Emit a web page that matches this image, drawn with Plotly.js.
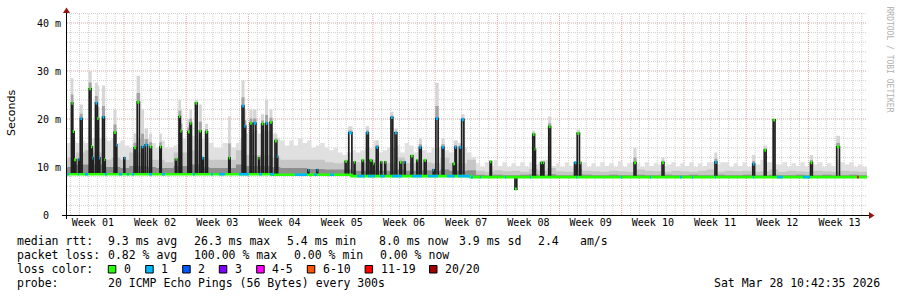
<!DOCTYPE html>
<html><head><meta charset="utf-8">
<script src="https://cdn.plot.ly/plotly-3.0.1.min.js"></script>
<style>html,body{margin:0;padding:0;background:#fff}#chart{width:897px;height:297px}</style>
</head><body><div id="chart"></div>
<script>
// ---------------- DATA (time in days from the left edge of the graph, 90 = now) ----------------
const weekLabels = ['Week 01','Week 02','Week 03','Week 04','Week 05','Week 06','Week 07','Week 08','Week 09','Week 10','Week 11','Week 12','Week 13'];
const weekMidDay = [2.91,9.91,16.91,23.91,30.91,37.91,44.91,51.91,58.91,65.91,72.91,79.91,86.91];
const weekStartDay = [6.41,13.41,20.41,27.41,34.41,41.41,48.41,55.41,62.41,69.41,76.41,83.41];

const yTickVals = [0, 10, 20, 30, 40];
const yTickText = ['0\u00a0\u00a0', '10 m', '20 m', '30 m', '40 m'];

// baseline median (ms), change points
const baseDay = [0, 23, 32, 45.4];
const baseMs  = [8.5, 8.4, 8.1, 7.9];

// elevated median periods
const spikeDay = [0.50,0.65,0.80,1.30,1.50,2.50,2.70,2.85,3.20,3.40,3.60,4.00,4.20,5.30,5.50,6.40,7.55,7.90,8.40,8.80,
  9.30,10.45,12.20,12.60,12.75,13.60,13.85,14.45,14.90,15.20,15.60,18.20,19.70,19.95,20.60,21.00,21.55,21.90,22.35,22.85,
  23.40,23.60,27.10,28.10,31.30,31.70,32.30,33.20,33.70,34.10,34.45,34.80,35.30,35.75,36.45,36.90,37.45,37.95,38.70,39.35,
  39.65,40.20,41.20,41.50,42.20,43.45,43.65,44.15,44.40,47.60,50.40,52.40,52.60,53.30,53.55,54.20,57.10,57.40,57.70,63.80,
  66.95,72.90,77.15,78.45,79.45,83.65,86.60];
const spikeLen = [0.15,0.15,0.20,0.10,0.20,0.20,0.15,0.10,0.20,0.15,0.10,0.20,0.10,0.20,0.10,0.10,0.20,0.25,0.20,0.25,
  0.20,0.15,0.15,0.15,0.15,0.20,0.15,0.20,0.20,0.15,0.20,0.15,0.20,0.15,0.20,0.25,0.10,0.20,0.20,0.20,
  0.20,0.10,0.10,0.10,0.20,0.35,0.10,0.15,0.20,0.20,0.10,0.20,0.10,0.10,0.20,0.20,0.20,0.10,0.20,0.10,
  0.20,0.20,0.10,0.25,0.20,0.20,0.15,0.20,0.25,0.15,0.20,0.20,0.10,0.15,0.10,0.20,0.20,0.25,0.10,0.20,
  0.20,0.20,0.20,0.20,0.20,0.20,0.30];
const spikeMs = [23.3,17.4,11.5,11.6,20.1,26.3,14.2,11.9,23.3,20.1,11.9,20.4,11.5,17.2,14.6,11.9,14.0,23.5,14.2,14.6,
  14.2,14.2,11.6,20.5,17.5,17.3,19.1,23.3,17.5,11.9,17.3,11.9,22.7,18.5,19.1,19.1,11.9,19.0,19.1,19.3,
  15.4,12.2,9.4,9.4,11.2,17.1,11.0,11.4,17.1,11.4,10.7,14.1,11.0,11.0,20.3,17.1,11.0,11.0,12.3,11.4,
  14.1,11.4,9.4,20.1,14.1,10.7,14.1,14.1,19.9,11.1,5.4,16.8,13.7,10.9,10.9,18.4,10.9,17.0,10.9,10.9,
  10.9,11.0,10.6,13.5,19.8,10.9,14.2];
const spikeLoss = [0,0,0,1,1,0,0,1,1,0,1,1,0,0,1,1,0,0,1,1,
  0,0,0,0,0,0,0,0,0,1,0,0,1,1,0,1,0,0,1,0,
  0,1,1,1,0,1,0,0,1,0,0,1,0,0,1,1,0,1,0,0,
  1,0,1,1,1,0,1,1,1,0,0,0,0,0,0,0,1,0,0,0,
  0,1,1,0,0,0,0];
// highest ping (top of the smoke) during each elevated period, 0 = none above the median
const spikeSmokeMs = [28.5,0,0,0,23,30,0,0,27.5,27,0,27,0,22,0,0,17,29,22,18,
  17,17,0,24,22,20,22,24,23,0,19,20.5,28,22,22,22,0,21,24,22,
  17,0,0,0,0,18.5,0,0,18.5,0,0,15.5,0,0,21.5,18,0,0,0,0,
  16,0,0,27.5,16,0,15.5,15,21,0,0,17.5,0,0,0,20.5,0,17.8,0,14,
  12,13,12.5,14.5,20,12.5,16.5];

// packet loss on the baseline (category index into lossLabels)
const lossStart = [0.00,1.24,2.02,4.27,5.85,6.75,7.31,9.22,10.69,14.17,16.20,17.10,19.35,21.60,22.84,25.65,27.79,29.59,32.62,33.86,
  35.21,36.56,38.81,40.61,42.75,43.99,45.45,46.46,49.27,52.09,57.26,62.32,65.59,68.96,70.31,72.90,77.17,79.87,82.80,88.87];
const lossEnd   = [0.22,1.35,2.36,4.50,6.19,6.97,7.54,9.56,11.02,14.40,16.42,17.77,20.47,21.94,23.29,27.00,28.12,30.04,33.52,34.65,
  35.77,37.69,39.94,41.74,43.65,45.34,45.67,46.58,49.39,52.20,57.38,62.44,65.70,69.19,70.42,73.00,77.29,80.54,83.59,89.09];
const lossCat   = [1,1,1,1,1,1,1,1,1,1,1,1,1,1,1,1,1,1,1,1,
  1,1,1,1,1,1,1,1,1,1,1,1,1,1,1,1,1,1,1,6];

// smoke: outer (lightest) envelope, per half day (ms)
const smokeHiMs = [
  15,15.5,15,15.5,15,16,16,16,16,15.5,
  16,15,15.5,14.5,14,15,16,16,16,15,
  14,15.5,14,14,14.5,15.5,16,16,16.5,16,
  16,16,15,14,14,15,15,14,15,16,
  17,17,17.5,17,17.5,17.5,17,16,15.5,14.5,
  15.5,14.5,16,15,15.5,14,14.5,15,14,13.5,
  14,13,12.5,13,13.5,13,13.5,14,14,15.5,
  13,13.5,14,14,14.5,13,15,14.5,13,14,
  13.5,13,14,14,14.5,13.5,13,15.5,15,14,
  13,12,10.8,10,11,10,11.5,10.2,11,10,
  10.8,10.2,11,10,11,10.5,11,11.5,11.5,10.2,
  10.8,10,11,10.2,10.5,10.5,11,10,10.8,10,
  11,10.2,10.8,10,11.2,10,10.8,11,10.8,10,
  11,10.2,10.8,10.5,10,10.5,11,10,10.8,10.2,
  11,10,10.8,10.2,11,11,10.5,11,11,10,
  10.8,10.2,11,10,11,10.5,11.5,11,11,10.5,
  10.5,11,10,10.8,10.2,11,10,11,10.5,11,
  10,10.8,10.2,11.5,11,10.5,11,10,10.5,10];
// smoke: middle band, per day (ms)
const smokeMidMs = [
  12,13,13.5,13,11.5,12,11.5,13,13,11.5,11.5,11,13,13,
  13.5,12,11.5,11.5,11.5,13.5,12.5,12.5,12.5,12,11.5,11.5,11.5,11.5,
  11.5,11,10.8,11,11,10.8,11.5,10.8,10.8,12,10.8,10.8,11,10.8,12,10.8,10.8,11.5,
  9.2,9.0,9.3,9.1,9.2,9.0,9.6,9.2,9.8,9.1,
  9.0,9.6,9.2,9.1,9.0,9.2,9.1,9.0,9.5,9.2,
  9.1,9.0,9.2,9.1,9.0,9.2,9.5,9.0,9.2,9.1,
  9.2,9.0,9.1,9.5,9.0,9.2,9.1,9.0,9.2,9.1,
  9.0,9.2,9.1,9.0];
// smoke: dense core just above the median, per day (ms)
const smokeLowMs = [
  10,10.5,10.5,10.5,10,10,9.8,10.2,10.2,10,9.8,9.8,10.2,10.2,10.5,10,
  9.8,9.8,9.8,10.5,10.2,10.2,10.2,10,9.8,9.8,9.8,9.6,9.6,9.5,9.5,9.5,
  9.2,9.2,9.3,9.2,9.2,9.5,9.2,9.2,9.3,9.2,9.5,9.2,9.2,9.3,
  8.4,8.3,8.4,8.3,8.3,8.4,8.5,8.3,8.5,8.3,8.3,
  8.5,8.4,8.3,8.3,8.4,8.3,8.3,8.4,8.3,8.3,8.4,
  8.3,8.3,8.4,8.3,8.3,8.4,8.3,8.3,8.4,8.3,8.3,
  8.4,8.3,8.3,8.4,8.3,8.3,8.4,8.3,8.3,8.4,8.3];

const lossLabels = ['0','1','2','3','4-5','6-10','11-19','20/20'];
const lossColors = ['#26ff00','#00b8ff','#0059ff','#7e00ff','#ff00ff','#ff5500','#ff0000','#a10000'];

const statRow1 = ['median rtt:','9.3 ms avg','26.3 ms max','5.4 ms min','8.0 ms now','3.9 ms sd','2.4','am/s'];
const statRow2 = ['packet loss:','0.82 % avg','100.00 % max','0.00 % min','0.00 % now'];
const lossRowLabel = 'loss color:';
const probeLabel = 'probe:';
const probeText = '20 ICMP Echo Pings (56 Bytes) every 300s';
const stampText = 'Sat Mar 28 10:42:35 2026';
const yTitle = 'Seconds';
const watermark = 'RRDTOOL / TOBI OETIKER';

// ---------------- BUILD ----------------
const SPAN = 90;
function baseAt(t){ let v = baseMs[0]; for (let k = 0; k < baseDay.length; k++) if (t >= baseDay[k]) v = baseMs[k]; return v; }
function stepXY(vals, step){ const x = [], y = []; vals.forEach((v,i)=>{ x.push(i*step); y.push(v); }); x.push(vals.length*step); y.push(vals[vals.length-1]); return {x, y}; }
const baseX = baseDay.concat([SPAN]), baseY = baseMs.concat([baseMs[baseMs.length-1]]);

const traces = [];
function smokeLayer(vals, step, color){
  traces.push({x: baseX, y: baseY, mode:'lines', line:{width:0, shape:'hv'}, hoverinfo:'skip', showlegend:false});
  const s = stepXY(vals, step);
  traces.push({x: s.x, y: s.y, mode:'lines', line:{width:0, shape:'hv'}, fill:'tonexty', fillcolor: color, hoverinfo:'skip', showlegend:false});
}
smokeLayer(smokeHiMs, 0.5, '#e0e0e0');
smokeLayer(smokeMidMs, 1, '#c6c6c6');
smokeLayer(smokeLowMs, 1, '#8e8e8e');

// smoke above the elevated periods
const PAD = 0.07;
const fxL = [], fyL = [], fxD = [], fyD = [];
spikeDay.forEach((t,k)=>{
  const top = spikeSmokeMs[k], v = spikeMs[k];
  if (!(top > v)) return;
  const a = t - PAD, b = t + spikeLen[k] + PAD, mid = v + (top - v) * 0.35;
  fxL.push(a, b, b, a, a, null); fyL.push(v, v, top, top, v, null);
  fxD.push(a, b, b, a, a, null); fyD.push(v, v, mid, mid, v, null);
});
traces.push({x: fxL, y: fyL, mode:'lines', line:{width:0}, fill:'toself', fillcolor:'#d6d6d6', hoverinfo:'skip', showlegend:false});
traces.push({x: fxD, y: fyD, mode:'lines', line:{width:0}, fill:'toself', fillcolor:'#a4a4a4', hoverinfo:'skip', showlegend:false});

// black median line through the elevated periods
const bx = [], by = [];
const capX = lossColors.map(()=>[]), capY = lossColors.map(()=>[]);
spikeDay.forEach((t,k)=>{
  const b = baseAt(t), e = t + spikeLen[k], v = spikeMs[k];
  bx.push(t, t, e, e, null); by.push(b, v, v, b, null);
  capX[spikeLoss[k]].push(t, e, null); capY[spikeLoss[k]].push(v, v, null);
});
traces.push({x: bx, y: by, mode:'lines', line:{color:'#202020', width:1.7}, hoverinfo:'skip', showlegend:false});

// coloured median on the baseline
traces.push({x: baseX, y: baseY, mode:'lines', line:{color: lossColors[0], width:2.6, shape:'hv'}, hoverinfo:'skip', showlegend:false});
const lx = lossColors.map(()=>[]), ly = lossColors.map(()=>[]);
lossStart.forEach((s,k)=>{ const b = baseAt(s); lx[lossCat[k]].push(s, lossEnd[k], null); ly[lossCat[k]].push(b, b, null); });
lossColors.forEach((c,i)=>{ if (lx[i].length) traces.push({x: lx[i], y: ly[i], mode:'lines', line:{color:c, width:2.6}, hoverinfo:'skip', showlegend:false}); });
lossColors.forEach((c,i)=>{ if (capX[i].length) traces.push({x: capX[i], y: capY[i], mode:'lines', line:{color:c, width:3}, hoverinfo:'skip', showlegend:false}); });

// ---------------- LAYOUT ----------------
const L = 67, R = 867, T = 13, B = 215;
const YMAX = (B - T) / 4.8;
const px = x => (x - L) / (R - L);
const py = y => (B - y) / (B - T);
const GRID = '#d0d0d0', MGRID = '#e8a0a0', DASH = '1px,1px';

const shapes = [];
for (let d = 0.41; d < SPAN; d += 1) {
  if (weekStartDay.some(w => Math.abs(w - d) < 0.01)) continue;
  shapes.push({type:'line', xref:'x', yref:'paper', x0:d, x1:d, y0:0, y1:1, layer:'below', line:{color:GRID, width:1, dash:DASH}});
}
for (let v = 2; v < YMAX; v += 2) {
  if (v % 10 === 0) continue;
  shapes.push({type:'line', xref:'paper', yref:'y', x0:0, x1:1, y0:v, y1:v, layer:'below', line:{color:GRID, width:1, dash:DASH}});
}
weekStartDay.forEach(w => shapes.push({type:'line', xref:'x', yref:'paper', x0:w, x1:w, y0:0, y1:1, layer:'below', line:{color:MGRID, width:1, dash:DASH}}));
yTickVals.filter(v => v > 0).forEach(v => shapes.push({type:'line', xref:'paper', yref:'y', x0:0, x1:1, y0:v, y1:v, layer:'below', line:{color:MGRID, width:1, dash:DASH}}));

// axes + arrows
shapes.push({type:'line', xref:'paper', yref:'paper', x0:px(62), x1:px(870), y0:py(215.5), y1:py(215.5), line:{color:'#000', width:1}});
shapes.push({type:'line', xref:'paper', yref:'paper', x0:px(66.5), x1:px(66.5), y0:py(219), y1:py(11), line:{color:'#000', width:1}});
shapes.push({type:'path', xref:'paper', yref:'paper', path:`M ${px(66.5)},${py(7.5)} L ${px(63)},${py(13)} L ${px(70)},${py(13)} Z`, fillcolor:'#9a1010', line:{width:0}});
shapes.push({type:'path', xref:'paper', yref:'paper', path:`M ${px(874.5)},${py(215.5)} L ${px(869)},${py(212)} L ${px(869)},${py(219)} Z`, fillcolor:'#9a1010', line:{width:0}});

const MONO = 'DejaVu Sans Mono';
const annotations = [];
function txt(x, y, text, opts){ annotations.push(Object.assign({xref:'paper', yref:'paper', x:px(x), y:py(y), text, showarrow:false, xanchor:'left', yanchor:'middle', borderpad:0, font:{family:MONO, size:11.5, color:'#000'}}, opts||{})); }

const row1X = [16,107,193,286,378,458,537,579];
statRow1.forEach((s,i)=>txt(row1X[i], 241.3, s));
const row2X = [16,107,193,292.5,379];
statRow2.forEach((s,i)=>txt(row2X[i], 255.3, s));
txt(16, 269.3, lossRowLabel);
const boxX = [108.3,145.7,182.7,219.3,256.7,307.3,365.1,429.5];
lossLabels.forEach((lab,i)=>{
  shapes.push({type:'rect', xref:'paper', yref:'paper', x0:px(boxX[i]), x1:px(boxX[i]+7.5), y0:py(273), y1:py(265.5), fillcolor:lossColors[i], line:{color:'#000', width:1}});
  txt(boxX[i] + 14.5, 269.3, lab);
});
txt(16, 283, probeLabel);
txt(107, 283, probeText);
txt(880.5, 283, stampText, {xanchor:'right'});
txt(11, 113, yTitle, {xanchor:'center', textangle:-90, font:{family:'DejaVu Sans', size:11, color:'#000'}});
txt(888.5, 59, watermark, {xanchor:'center', textangle:90, font:{family:MONO, size:8, color:'#b0b0b0'}});

const layout = {
  width: 897, height: 297,
  margin: {l: L, r: 897 - R, t: T, b: 297 - B, pad: 0},
  paper_bgcolor: '#fff', plot_bgcolor: '#fff', showlegend: false,
  font: {family: MONO, size: 10, color: '#000'},
  xaxis: {range: [0, SPAN], tickmode: 'array', tickvals: weekMidDay, ticktext: weekLabels, showgrid: false, zeroline: false, showline: false, ticks: '', tickfont: {family: MONO, size: 10, color: '#000'}, fixedrange: true},
  yaxis: {range: [0, YMAX], tickmode: 'array', tickvals: yTickVals, ticktext: yTickText, showgrid: false, zeroline: false, showline: false, ticks: '', ticklabelstandoff: 5, tickfont: {family: MONO, size: 10, color: '#000'}, fixedrange: true},
  shapes, annotations
};
Plotly.newPlot('chart', traces, layout, {staticPlot: true, displayModeBar: false});
</script>
</body></html>
